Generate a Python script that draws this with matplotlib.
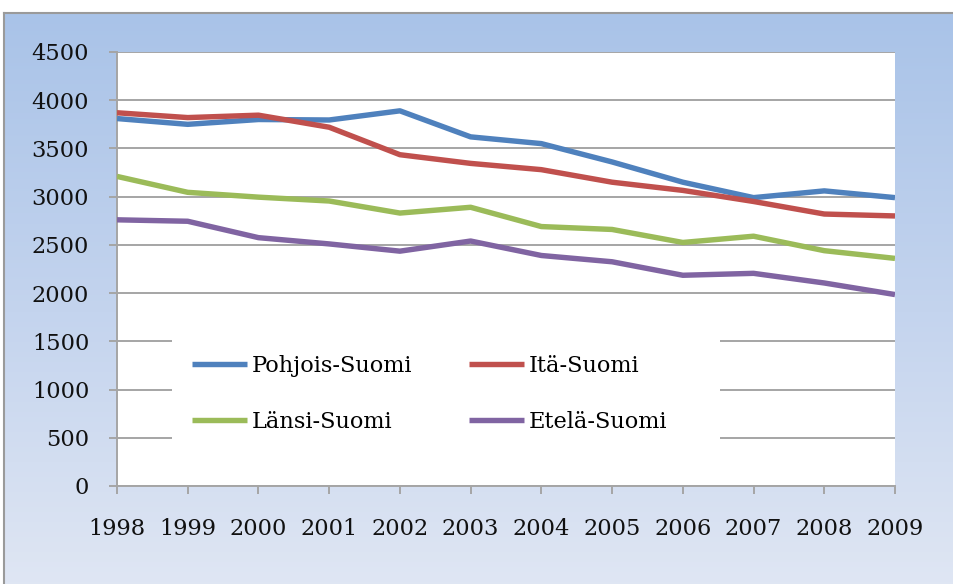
import numpy as np
import matplotlib
matplotlib.use("Agg")
import matplotlib.pyplot as plt
from matplotlib.colors import LinearSegmentedColormap
from matplotlib.lines import Line2D
from matplotlib.patches import Rectangle

years = [1998, 1999, 2000, 2001, 2002, 2003, 2004, 2005, 2006, 2007, 2008, 2009]
pohjois = [3810, 3750, 3800, 3795, 3890, 3620, 3550, 3360, 3150, 2990, 3060, 2990]
ita = [3870, 3820, 3845, 3720, 3435, 3345, 3280, 3150, 3065, 2950, 2820, 2800]
lansi = [3210, 3045, 2995, 2955, 2830, 2890, 2690, 2660, 2525, 2590, 2440, 2360]
etela = [2760, 2745, 2575, 2510, 2435, 2540, 2390, 2325, 2185, 2205, 2105, 1985]
labels = ["Pohjois-Suomi", "Itä-Suomi", "Länsi-Suomi", "Etelä-Suomi"]
colors = ["#4F81BD", "#C0504D", "#9BBB59", "#8064A2"]
yticks = [0, 500, 1000, 1500, 2000, 2500, 3000, 3500, 4000, 4500]

W, H = 954, 584
fig = plt.figure(figsize=(W / 100, H / 100), dpi=100)
fig.patch.set_facecolor("white")

# gradient background panel (extends past the right edge)
bg = fig.add_axes([4 / W, -0.05, 1.1, (H - 13) / H + 0.05], zorder=0)
cmap = LinearSegmentedColormap.from_list("bg", ["#A9C3E8", "#C4D4EE", "#E2E8F4"])
grad = np.linspace(0, 1, 256).reshape(-1, 1)
bg.imshow(grad, aspect="auto", cmap=cmap, extent=[0, 1, 0, 1], origin="upper",
          interpolation="bilinear")
bg.set_xlim(0, 1)
bg.set_ylim(0, 1)
bg.set_axis_off()
fig.add_artist(Line2D([4 / W, 1.05], [(H - 13) / H] * 2, color="#9a9a9a", lw=1.5))
fig.add_artist(Line2D([4 / W] * 2, [-0.05, (H - 13) / H], color="#9a9a9a", lw=1.5))

ax = fig.add_axes([117 / W, (H - 486) / H, 778 / W, 434 / H], zorder=1)
ax.set_facecolor("white")
series = [pohjois, ita, lansi, etela]
lines = []
for vals, lab, col in zip(series, labels, colors):
    ln, = ax.plot(years, vals, color=col, lw=3.9, label=lab, solid_capstyle="butt",
                  solid_joinstyle="round", zorder=3)
    lines.append(ln)

ax.set_xlim(years[0], years[-1])
ax.set_ylim(0, 4500)
ax.set_yticks(yticks)
ax.set_xticks(years)
ax.grid(axis="y", color="#a5a5a5", lw=1.4)
ax.set_axisbelow(True)
for s in ["top", "right"]:
    ax.spines[s].set_visible(False)
for s in ["left", "bottom"]:
    ax.spines[s].set_color("#a5a5a5")
    ax.spines[s].set_linewidth(1.4)
ax.tick_params(axis="both", color="#a5a5a5", width=1.4, length=6, direction="out")
ax.tick_params(axis="y", pad=14)
ax.tick_params(axis="x", pad=17)
for t in ax.get_xticklabels() + ax.get_yticklabels():
    t.set_fontfamily("DejaVu Serif")
    t.set_fontsize(16.2)
    t.set_color("#111111")

# white legend area covering the gridlines
x0 = (172 - 117) / 778
x1 = (720 - 117) / 778
y0 = (486 - 468) / 434
y1 = (486 - 318) / 434
ax.add_patch(Rectangle((x0, y0), x1 - x0, y1 - y0, transform=ax.transAxes,
                       facecolor="white", edgecolor="none", zorder=1))

order = [0, 2, 1, 3]
leg = ax.legend([lines[i] for i in order], [labels[i] for i in order],
                loc="upper left", bbox_to_anchor=(x0, (486 - 335) / 434),
                ncol=2, frameon=False,
                prop={"family": "DejaVu Serif", "size": 16.2},
                handlelength=2.45, handletextpad=0.2, columnspacing=2.5,
                labelspacing=1.5, borderpad=0.9, borderaxespad=0)

fig.savefig("out.png", dpi=100)
